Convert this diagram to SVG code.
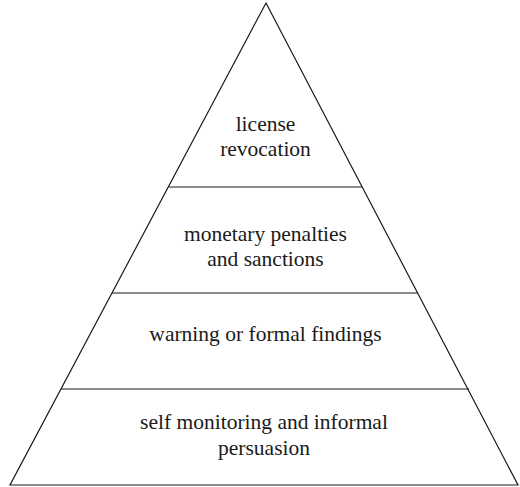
<svg xmlns="http://www.w3.org/2000/svg" width="520" height="487" viewBox="0 0 520 487">
  <style>
    .edge { stroke: #1a1a1a; stroke-width: 1.2; fill: none; }
    .lbl { font-family: "Liberation Serif", "Times New Roman", serif; font-size: 21.5px; fill: #1a1a1a; text-anchor: middle; }
  </style>
  <rect width="520" height="487" fill="#ffffff"/>
  <!-- pyramid outline -->
  <g id="pyramid">
    <polygon class="edge" points="266,3 10,485 518,485"/>
  </g>
  <!-- tier dividers -->
  <g id="dividers">
    <line class="edge" x1="168.5" y1="187" x2="362" y2="187"/>
    <line class="edge" x1="112" y1="293" x2="418" y2="293"/>
    <line class="edge" x1="61" y1="389" x2="469" y2="389"/>
  </g>
  <g id="tier-top">
    <text class="lbl" x="265.5" y="131">license</text>
    <text class="lbl" x="265.5" y="156">revocation</text>
  </g>
  <g id="tier-second">
    <text class="lbl" x="265.5" y="241">monetary penalties</text>
    <text class="lbl" x="265.5" y="266">and sanctions</text>
  </g>
  <g id="tier-third">
    <text class="lbl" x="265.5" y="341">warning or formal findings</text>
  </g>
  <g id="tier-base">
    <text class="lbl" x="264" y="429">self monitoring and informal</text>
    <text class="lbl" x="264" y="455">persuasion</text>
  </g>
</svg>
